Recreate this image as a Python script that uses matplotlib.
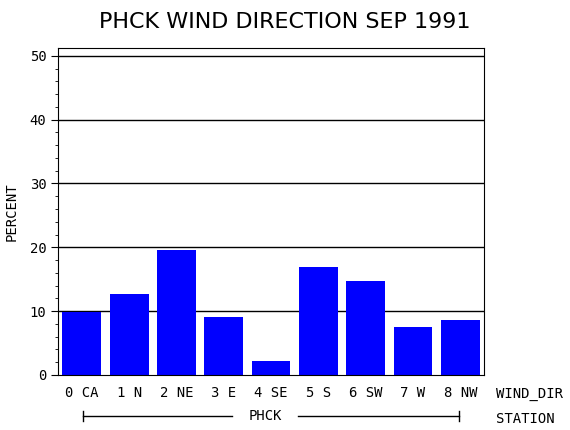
import matplotlib
matplotlib.use("Agg")
import matplotlib.pyplot as plt
from matplotlib.ticker import MultipleLocator

categories = ["0 CA", "1 N", "2 NE", "3 E", "4 SE", "5 S", "6 SW", "7 W", "8 NW"]
percent = [9.9, 12.7, 19.6, 9.1, 2.2, 16.9, 14.7, 7.5, 8.6]
yticks = [0, 10, 20, 30, 40, 50]

fig = plt.figure(figsize=(5.7, 4.3), dpi=100)
ax = fig.add_axes([0.102, 0.128, 0.747, 0.76])
x = list(range(len(categories)))
for v in yticks[1:]:
    ax.axhline(v, color="black", lw=1, zorder=1)
ax.bar(x, percent, width=0.82, color="#0000ff", zorder=2)
ax.set_xlim(-0.5, 8.5)
ax.set_ylim(0, 51.2)
ax.set_yticks(yticks)
ax.yaxis.set_minor_locator(MultipleLocator(2))
ax.set_xticks(x)
ax.set_xticklabels(categories, family="DejaVu Sans Mono", fontsize=10)
ax.tick_params(axis="x", length=0, pad=8)
ax.tick_params(axis="y", which="major", length=5, direction="out")
ax.tick_params(axis="y", which="minor", length=2.5)
for lab in ax.get_yticklabels():
    lab.set_family("DejaVu Sans Mono")
ax.set_ylabel("PERCENT", family="DejaVu Sans Mono", fontsize=10, labelpad=8)
fig.text(0.5, 0.95, "PHCK WIND DIRECTION SEP 1991", ha="center", va="center", fontsize=16)
fig.text(0.87, 0.083, "WIND_DIR", family="DejaVu Sans Mono", fontsize=10, va="center")
fig.text(0.87, 0.025, "STATION", family="DejaVu Sans Mono", fontsize=10, va="center")
# station bracket
y0 = 0.032
fig.add_artist(plt.Line2D([83/570, 232/570], [y0, y0], color="black", lw=1))
fig.add_artist(plt.Line2D([298/570, 459/570], [y0, y0], color="black", lw=1))
fig.add_artist(plt.Line2D([83/570, 83/570], [y0-0.012, y0+0.012], color="black", lw=1))
fig.add_artist(plt.Line2D([459/570, 459/570], [y0-0.012, y0+0.012], color="black", lw=1))
fig.text(265/570, y0, "PHCK", family="DejaVu Sans Mono", fontsize=10, ha="center", va="center")
fig.savefig("out.png", dpi=100)
